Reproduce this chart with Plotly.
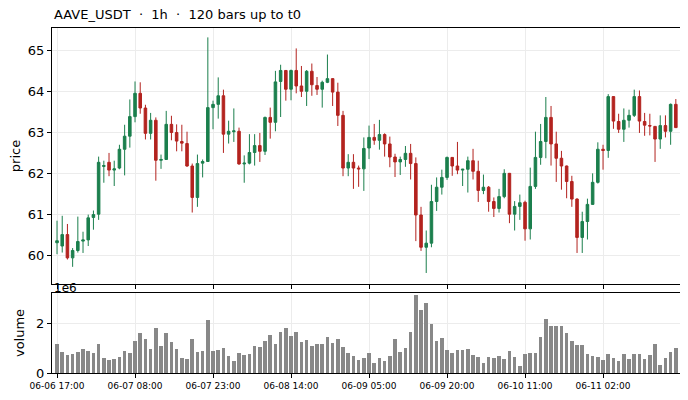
import pandas as pd
import plotly.graph_objects as go

# 120 hourly candles
opens = [60.30, 60.22, 60.50, 59.93, 60.11, 60.34, 60.37, 60.92, 61.00, 62.17,
         62.27, 62.08, 62.13, 62.59, 62.91, 63.39, 63.96, 63.60, 62.98, 63.30,
         62.32, 62.34, 63.20, 63.00, 62.78, 62.73, 62.18, 61.41, 62.25, 62.29,
         63.61, 63.69, 63.90, 62.96, 63.02, 63.03, 62.23, 62.25, 62.51, 62.68,
         62.54, 63.37, 63.25, 64.25, 64.52, 64.06, 64.52, 64.14, 64.01, 64.50,
         64.15, 64.06, 64.23, 64.32, 63.99, 63.42, 62.13, 62.27, 62.13, 62.11,
         62.62, 62.88, 62.81, 62.95, 62.72, 62.40, 62.28, 62.34, 62.49, 62.24,
         60.98, 60.19, 60.29, 61.31, 61.66, 61.90, 62.39, 62.18, 62.08, 62.10,
         62.31, 62.05, 61.58, 61.66, 61.31, 61.14, 61.43, 62.00, 61.00, 61.19,
         61.29, 60.64, 61.68, 62.39, 62.78, 63.37, 62.72, 62.37, 62.18, 61.80,
         61.37, 60.43, 60.82, 61.24, 61.78, 62.59, 62.56, 63.88, 63.27, 63.08,
         63.30, 63.42, 63.88, 63.27, 63.17, 63.15, 62.84, 63.17, 63.03, 63.69]
highs = [60.84, 60.96, 60.76, 60.17, 60.94, 60.57, 60.99, 61.09, 62.41, 62.31,
         62.50, 62.31, 62.70, 63.19, 63.81, 64.25, 64.23, 63.68, 63.48, 63.37,
         62.46, 63.53, 63.41, 63.20, 63.19, 63.02, 62.24, 62.46, 62.34, 65.33,
         63.78, 64.35, 64.05, 63.29, 63.59, 63.12, 62.44, 62.96, 62.96, 62.99,
         63.39, 63.61, 64.51, 64.66, 64.53, 64.54, 65.06, 64.63, 64.53, 64.69,
         64.36, 64.27, 64.91, 64.33, 64.22, 63.53, 62.47, 62.47, 62.19, 62.88,
         63.17, 63.21, 63.31, 62.98, 62.90, 62.48, 62.41, 62.67, 62.72, 62.39,
         61.18, 60.60, 61.72, 61.90, 62.09, 62.41, 62.40, 62.77, 62.11, 62.41,
         62.60, 62.31, 61.97, 61.69, 61.41, 61.62, 62.10, 62.01, 61.32, 61.48,
         61.33, 62.14, 63.02, 63.21, 63.87, 63.65, 63.02, 62.55, 62.19, 61.94,
         61.39, 61.06, 61.38, 62.00, 62.76, 62.70, 63.94, 63.89, 63.46, 63.59,
         63.56, 64.05, 64.03, 63.48, 63.46, 63.16, 63.42, 63.42, 63.71, 63.82]
lows = [60.02, 60.06, 59.89, 59.71, 60.06, 60.05, 60.22, 60.62, 60.86, 61.77,
        61.93, 61.69, 62.10, 61.95, 62.63, 63.25, 63.46, 62.83, 62.83, 61.82,
        62.11, 62.33, 62.81, 62.54, 62.54, 62.16, 61.04, 61.18, 61.90, 62.28,
        63.08, 63.34, 62.50, 62.73, 62.77, 62.21, 61.77, 62.22, 62.19, 62.28,
        62.45, 62.85, 63.03, 63.38, 63.78, 63.79, 63.96, 63.87, 63.65, 63.90,
        63.92, 63.61, 64.21, 63.65, 63.16, 61.93, 61.93, 61.62, 61.67, 61.57,
        62.35, 62.70, 62.58, 62.41, 62.15, 61.91, 61.96, 62.16, 61.85, 60.34,
        60.10, 59.56, 60.19, 61.08, 61.48, 61.84, 61.94, 61.98, 61.69, 61.53,
        61.85, 61.30, 61.49, 61.06, 60.93, 61.04, 61.39, 60.78, 60.60, 60.86,
        60.35, 60.38, 61.62, 62.21, 62.37, 62.19, 61.79, 61.60, 61.39, 61.18,
        60.05, 60.05, 60.38, 61.23, 61.75, 62.09, 62.38, 63.09, 62.99, 62.77,
        63.12, 63.38, 62.99, 62.92, 62.93, 62.28, 62.60, 62.88, 62.70, 63.11]
closes = [60.35, 60.50, 59.93, 60.11, 60.33, 60.37, 60.91, 60.99, 62.27, 62.19,
          62.08, 62.11, 62.59, 62.91, 63.39, 63.96, 63.60, 62.98, 63.30, 62.32,
          62.34, 63.20, 63.00, 62.79, 62.74, 62.18, 61.41, 62.24, 62.29, 63.61,
          63.69, 63.90, 62.96, 63.03, 63.04, 62.23, 62.25, 62.51, 62.68, 62.54,
          63.37, 63.25, 64.24, 64.52, 64.06, 64.52, 64.14, 64.01, 64.50, 64.17,
          64.06, 64.23, 64.32, 63.99, 63.42, 62.13, 62.27, 62.13, 62.11, 62.61,
          62.88, 62.81, 62.95, 62.72, 62.40, 62.28, 62.34, 62.49, 62.24, 60.98,
          60.19, 60.29, 61.31, 61.66, 61.90, 62.39, 62.18, 62.08, 62.10, 62.31,
          62.05, 61.58, 61.66, 61.31, 61.14, 61.43, 62.00, 61.00, 61.19, 61.28,
          60.64, 61.68, 62.39, 62.78, 63.37, 62.72, 62.37, 62.18, 61.80, 61.37,
          60.43, 60.82, 61.24, 61.78, 62.59, 62.56, 63.88, 63.28, 63.08, 63.30,
          63.42, 63.88, 63.28, 63.18, 63.16, 62.84, 63.17, 63.03, 63.69, 63.12]
# volume in millions
volumes = [1.19, 0.86, 0.74, 0.78, 0.86, 0.99, 0.90, 0.82, 1.19, 0.62,
           0.53, 0.58, 0.66, 0.90, 0.82, 1.32, 1.64, 1.40, 0.99, 1.81,
           1.11, 1.64, 1.27, 0.99, 0.62, 0.58, 1.40, 0.86, 0.90, 2.14,
           0.90, 0.95, 1.03, 0.70, 0.49, 0.82, 0.74, 0.78, 1.11, 1.07,
           1.32, 1.56, 1.19, 1.68, 1.81, 1.52, 1.68, 1.27, 1.36, 1.11,
           1.19, 1.19, 1.48, 1.23, 1.40, 1.07, 0.82, 0.70, 0.53, 0.62,
           0.82, 0.41, 0.62, 0.49, 0.70, 1.40, 0.86, 1.03, 1.68, 3.16,
           2.55, 2.84, 2.01, 1.32, 1.44, 0.95, 0.82, 0.95, 0.95, 0.99,
           0.74, 0.66, 0.41, 0.66, 0.62, 0.70, 0.58, 0.90, 0.66, 0.29,
           0.78, 0.82, 0.82, 1.48, 2.18, 1.89, 1.93, 1.89, 1.64, 1.32,
           1.15, 1.15, 0.78, 0.70, 0.66, 0.53, 0.78, 0.62, 0.49, 0.78,
           0.58, 0.78, 0.78, 0.58, 0.74, 1.19, 0.33, 0.62, 0.86, 1.03]
tick_labels = ["06-06 17:00", "06-07 08:00", "06-07 23:00", "06-08 14:00",
               "06-09 05:00", "06-09 20:00", "06-10 11:00", "06-11 02:00"]

times = pd.date_range("2024-06-06 17:00", periods=len(opens), freq="h")
tick_vals = [pd.Timestamp("2024-" + t) for t in tick_labels]

UP = "#1b7f4d"
DOWN = "#b3231f"
GRID = "#ececec"
FONT = "DejaVu Sans"

x_range = [times[0] - pd.Timedelta(minutes=58), times[-1] + pd.Timedelta(minutes=48)]

fig = go.Figure()
fig.add_trace(go.Candlestick(
    x=times, open=opens, high=highs, low=lows, close=closes,
    increasing=dict(line=dict(color=UP, width=1), fillcolor=UP),
    decreasing=dict(line=dict(color=DOWN, width=1), fillcolor=DOWN),
    whiskerwidth=0, showlegend=False, xaxis="x", yaxis="y",
))
fig.add_trace(go.Bar(
    x=times, y=[v * 1e6 for v in volumes], width=0.7 * 3600 * 1000,
    marker=dict(color="#888888", line=dict(width=0)),
    showlegend=False, xaxis="x2", yaxis="y2",
))

axis_common = dict(showline=True, linecolor="black", linewidth=1, mirror=True,
                   ticks="outside", ticklen=4, tickcolor="black", automargin=False,
                   showgrid=True, gridcolor=GRID, gridwidth=0.8, zeroline=False)

# the page body adds an 8px offset, so the figure is 8px smaller and margins shifted
fig.update_layout(
    width=680, height=392,
    margin=dict(l=44, r=8, t=20, b=27),
    paper_bgcolor="white", plot_bgcolor="white",
    font=dict(family=FONT, size=13, color="black"),
    boxgap=0.3,
    bargap=0,
    xaxis=dict(domain=[0, 1], anchor="y", type="date", range=x_range,
               tickvals=tick_vals, showticklabels=False,
               rangeslider=dict(visible=False), **axis_common),
    yaxis=dict(domain=[0.258, 1], anchor="x", range=[59.29, 65.56],
               tickvals=[60, 61, 62, 63, 64, 65],
               title=dict(text="price", font=dict(size=13), standoff=6),
               tickfont=dict(size=13), **axis_common),
    xaxis2=dict(domain=[0, 1], anchor="y2", type="date", range=x_range,
                tickvals=tick_vals, ticktext=tick_labels,
                tickfont=dict(size=9), **axis_common),
    yaxis2=dict(domain=[0, 0.232], anchor="x2", range=[0, 3.25e6],
                tickvals=[0, 2e6], ticktext=["0", "2"],
                title=dict(text="volume", font=dict(size=13), standoff=8),
                tickfont=dict(size=13), **axis_common),
    annotations=[
        dict(text="AAVE_USDT  ·  1h  ·  120 bars up to t0", xref="paper", yref="paper",
             x=0, y=1, xanchor="left", yanchor="bottom", yshift=4, showarrow=False,
             font=dict(size=13)),
        dict(text="1e6", xref="paper", yref="paper", x=0, y=0.232,
             xanchor="left", yanchor="bottom", yshift=-4, showarrow=False,
             font=dict(size=12)),
    ],
)

fig.write_html("out.html")
